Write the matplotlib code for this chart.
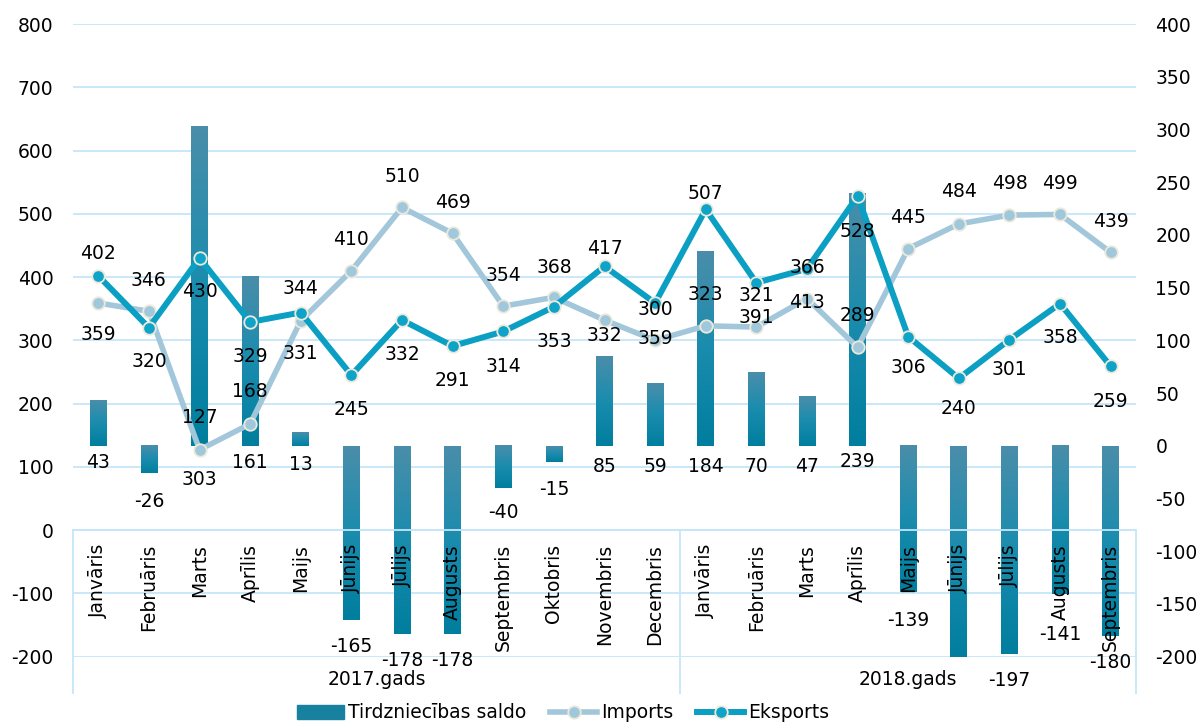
import numpy as np
import matplotlib
matplotlib.use("Agg")
import matplotlib.pyplot as plt
from matplotlib.colors import LinearSegmentedColormap
from matplotlib.lines import Line2D
from matplotlib.patches import Patch

plt.rcParams['font.family'] = ['DejaVu Sans']
plt.rcParams['axes.unicode_minus'] = False

# data
months = ["Janvāris", "Februāris", "Marts", "Aprīlis", "Maijs", "Jūnijs", "Jūlijs",
          "Augusts", "Septembris", "Oktobris", "Novembris", "Decembris",
          "Janvāris", "Februāris", "Marts", "Aprīlis", "Maijs", "Jūnijs", "Jūlijs",
          "Augusts", "Septembris"]
years = ["2017.gads", "2018.gads"]
year_len = [12, 9]

imports = [359, 346, 127, 168, 331, 410, 510, 469, 354, 368, 332, 300,
           323, 321, 366, 289, 445, 484, 498, 499, 439]
exports = [402, 320, 430, 329, 344, 245, 332, 291, 314, 353, 417, 359,
           507, 391, 413, 528, 306, 240, 301, 358, 259]
saldo = [43, -26, 303, 161, 13, -165, -178, -178, -40, -15, 85, 59,
         184, 70, 47, 239, -139, -203, -197, -141, -180]
saldo_shown = [True] * 17 + [False] + [True] * 3

# label offsets in pixels (positive = downwards)
imp_dy = [31, -31, -32, -32, 33, -31, -31, -31, -31, -30, 15, -31,
          -31, -32, -31, -32, -31, -32, -32, -31, -31]
exp_dy = [-22, 34, 33, 34, -24, 34, 34, 34, 35, 35, -18, 35,
          -16, 35, 34, 35, 31, 30, 30, 34, 35]
bar_dy = [17, 28, 34, 17, 19, 27, 27, 27, 25, 28, 21, 21,
          21, 21, 21, 16, 28, 27, 27, 40, 27]

FS = 13.5
grid_c = '#c6e6f8'
exp_c = '#0a9fc3'
imp_c = '#a2c7da'
edge_c = '#ede9da'
px = 72 / 100.0

fig = plt.figure(figsize=(12.01, 7.24), dpi=100)
rect = [73 / 1201, 1 - 656.7 / 724, (1136 - 73) / 1201, (656.7 - 24) / 724]
ax1 = fig.add_axes(rect)
ax2 = ax1.twinx()
ax3 = fig.add_axes(rect, sharex=ax1, sharey=ax1)
ax1.set_zorder(1)
ax2.set_zorder(2)
ax3.set_zorder(3)
ax3.patch.set_visible(False)

x = np.arange(len(months))

# left axis with grid
ax1.set_ylim(-200, 800)
ax1.set_xlim(-0.5, len(months) - 0.5)
ax1.set_yticks(np.arange(-200, 801, 100))
ax1.yaxis.grid(True, color=grid_c, lw=1.3)
ax1.set_axisbelow(True)
ax1.tick_params(axis='y', length=0, pad=14, labelsize=FS)
ax1.tick_params(axis='x', length=0, labelbottom=False)
for s in ax1.spines.values():
    s.set_visible(False)

# right axis with bars
ax2.set_ylim(-200, 400)
ax2.set_yticks(np.arange(-200, 401, 50))
ax2.tick_params(axis='y', length=0, pad=14, labelsize=FS)
for s in ax2.spines.values():
    s.set_visible(False)

cmap = LinearSegmentedColormap.from_list('bar', ['#007e9e', '#1a8cae', '#4a8eaa'])
grad = np.linspace(0, 1, 256).reshape(-1, 1)
bars = ax2.bar(x, saldo, width=0.33, color='#1a86a6', zorder=2)
for b in bars:
    x0, w = b.get_x(), b.get_width()
    y0, h = b.get_y(), b.get_height()
    ax2.imshow(grad, extent=[x0, x0 + w, min(y0, y0 + h), max(y0, y0 + h)],
               origin='lower', cmap=cmap, aspect='auto', zorder=3)
ax2.set_ylim(-200, 400)
ax2.set_xlim(-0.5, len(months) - 0.5)

# lines on top axes
ax3.plot(x, imports, color=imp_c, lw=4.0, marker='o', ms=9, mfc='#a0c8dc',
         mec=edge_c, mew=1.3, zorder=3)
ax3.plot(x, exports, color=exp_c, lw=4.3, marker='o', ms=9, mfc='#0ea3c8',
         mec=edge_c, mew=1.3, zorder=4)
ax3.tick_params(axis='y', left=False, labelleft=False)
for s in ['top', 'left', 'right']:
    ax3.spines[s].set_visible(False)
ax3.spines['bottom'].set_position(('data', 0))
ax3.spines['bottom'].set_color(grid_c)
ax3.spines['bottom'].set_linewidth(1.3)
ax3.set_xticks(x)
ax3.set_xticklabels(months, rotation=90, va='top', ha='center', fontsize=FS)
ax3.tick_params(axis='x', length=0, pad=10)

for i in x:
    ax3.annotate(str(imports[i]), (i, imports[i]), xytext=(0, -imp_dy[i] * px),
                 textcoords='offset points', ha='center', va='center', fontsize=FS, zorder=6)
    ax3.annotate(str(exports[i]), (i, exports[i]), xytext=(0, -exp_dy[i] * px),
                 textcoords='offset points', ha='center', va='center', fontsize=FS, zorder=6)
    if saldo_shown[i]:
        yb = ax3.transData.inverted().transform(
            ax2.transData.transform((i, min(saldo[i], 0))))[1]
        ax3.annotate(str(saldo[i]), (i, yb), xytext=(0, -bar_dy[i] * px),
                     textcoords='offset points', ha='center', va='center', fontsize=FS, zorder=6)

# multi-level category box
edges = np.concatenate([[0], np.cumsum(year_len)]) - 0.5
for e in edges:
    ax3.plot([e, e], [0, -257], color=grid_c, lw=1.3, clip_on=False, zorder=1)
for k, yr in enumerate(years):
    ax3.text((edges[k] + edges[k + 1]) / 2, -236, yr, ha='center', va='center',
             fontsize=FS, clip_on=False)

handles = [Patch(color='#17819f', label='Tirdzniecības saldo'),
           Line2D([], [], color=imp_c, lw=4.0, marker='o', ms=9, mfc='#a0c8dc',
                  mec=edge_c, mew=1.3, label='Imports'),
           Line2D([], [], color=exp_c, lw=4.3, marker='o', ms=9, mfc='#0ea3c8',
                  mec=edge_c, mew=1.3, label='Eksports')]
fig.legend(handles=handles, loc='center', bbox_to_anchor=(563 / 1201, 1 - 713 / 724),
           ncol=3, frameon=False, fontsize=FS, handlelength=2.5, handleheight=0.7,
           handletextpad=0.2, columnspacing=1.3, borderpad=0)

fig.savefig('out.png', dpi=100)
